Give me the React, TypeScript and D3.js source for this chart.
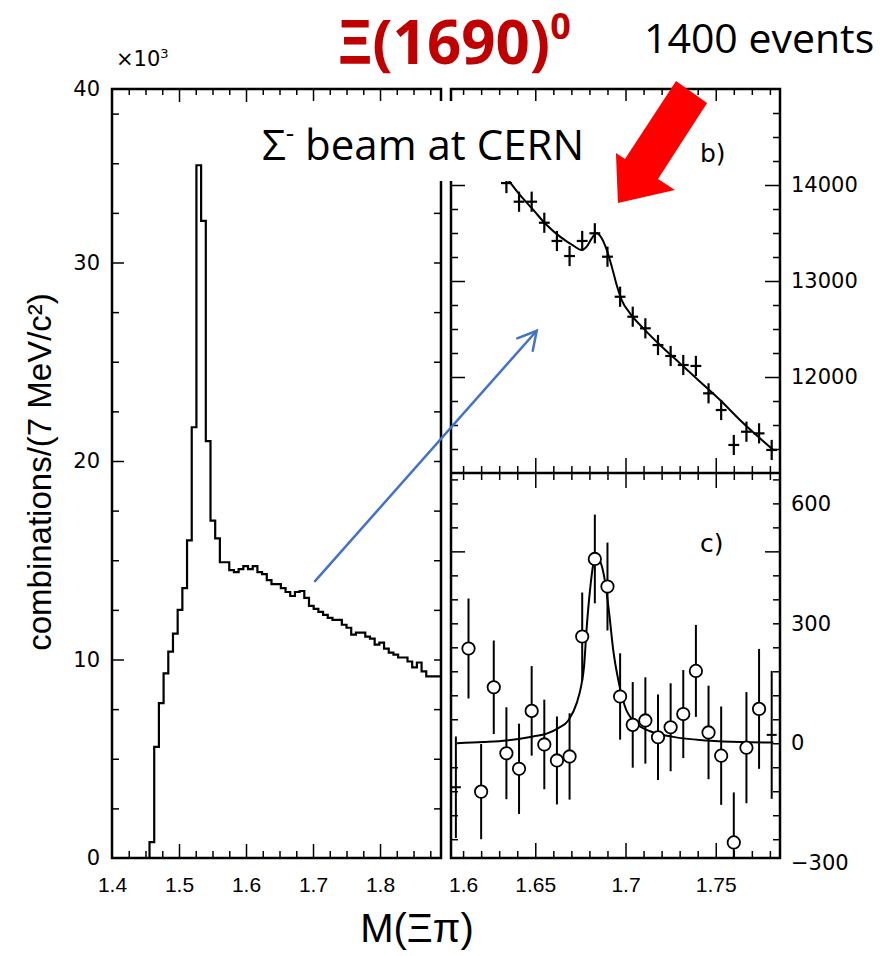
import React, { useEffect, useRef } from 'react';
import * as d3 from 'd3';

const W = 889;
const H = 956;

// left panel: M(Xi pi) histogram, 7 MeV bins, counts in units of 10^3
const histStart = 1.456;
const binW = 0.007;
const histCounts = [
  0.8, 5.6, 7.8, 9.3, 10.4, 11.3, 12.5, 13.6, 16.0, 21.7, 34.9, 32.1, 21.0, 17.0, 16.1,
  14.9, 14.9, 14.5, 14.4, 14.55, 14.7, 14.55, 14.7, 14.4, 14.3, 14.0, 13.8, 13.8, 13.6,
  13.4, 13.2, 13.4, 13.45, 13.1, 12.7, 12.55, 12.4, 12.25, 12.1, 12.0, 12.0, 11.75, 11.6,
  11.25, 11.35, 11.35, 11.15, 11.05, 10.75, 10.85, 10.55, 10.35, 10.25, 10.1, 10.1, 9.9,
  9.6, 9.85, 9.4, 9.15, 9.15, 9.15,
];

// right panels: bin centres (GeV)
const massR = [
  1.606, 1.613, 1.62, 1.627, 1.634, 1.641, 1.648, 1.655, 1.662, 1.669, 1.676, 1.683, 1.69,
  1.697, 1.704, 1.711, 1.718, 1.725, 1.732, 1.739, 1.746, 1.753, 1.76, 1.767, 1.774, 1.781,
];
// b) zoom of the histogram (first bins are above the frame)
const bCounts = [
  null, null, null, null, 14020, 13826, 13826, 13607, 13417, 13260, 13417, 13497, 13253,
  12836, 12628, 12507, 12333, 12219, 12125, 12115, 11830, 11656, 11292, 11430, 11413, 11240,
];
const bErr = 105;
const bFitMass = [
  1.6351, 1.6415, 1.6489, 1.6563, 1.6637, 1.6711, 1.6757, 1.6785, 1.6813, 1.684, 1.6868,
  1.6896, 1.6924, 1.6951, 1.6979, 1.7025, 1.7099, 1.7191, 1.7302, 1.7413, 1.7524, 1.7634,
  1.7745, 1.7819,
];
const bFitVal = [
  14052, 13896, 13740, 13583, 13462, 13368, 13323, 13358, 13445, 13497, 13445, 13323, 13149,
  12958, 12802, 12663, 12507, 12333, 12142, 11951, 11760, 11552, 11361, 11240,
];

// c) background subtracted
const cCounts = [
  -110, 237, -121, 140, -25, -64, 81, -3, -43, -33, 267, 461, 392, 117, 46, 57, 15, 40, 73,
  181, 27, -31, -248, -11, 86, 21,
];
const cErr = [
  127, 125, 119, 117, 115, 113, 112, 112, 110, 108, 110, 111, 110, 108, 107, 108, 107, 110,
  110, 115, 117, 123, 125, 139, 150, 160,
];
const cFitMass = [
  1.6065, 1.6212, 1.6342, 1.6489, 1.6563, 1.6628, 1.6683, 1.673, 1.6757, 1.677, 1.6785,
  1.6803, 1.6822, 1.684, 1.6862, 1.6886, 1.691, 1.6932, 1.696, 1.6997, 1.7053, 1.7136,
  1.7265, 1.745, 1.7635, 1.7819,
];
const cFitVal = [
  0, 3, 7, 17, 24, 38, 57, 101, 150, 191, 290, 382, 448, 463, 452, 406, 323, 233, 158, 92,
  52, 30, 16, 7, 3, 2,
];

const leftXLabels = [1.4, 1.5, 1.6, 1.7, 1.8];
const leftYLabels = [0, 10, 20, 30];
const rightXLabels = [1.65, 1.7, 1.75];
const bYLabels = [12000, 13000, 14000];
const cYLabels = [-300, 0, 300, 600];

// annotation arrows in data coordinates
const redArrow: [number, number][] = [
  [1.728, 15083], [1.7452, 14854], [1.718, 14063], [1.7274, 13948],
  [1.6958, 13813], [1.6947, 14333], [1.6997, 14271],
];

export default function App() {
  const ref = useRef<SVGSVGElement>(null);

  useEffect(() => {
    const svg = d3.select(ref.current);
    svg.selectAll('*').remove();

    const L = { x0: 112, x1: 441, y0: 89, y1: 858 };
    const R = { x0: 451, x1: 780, y0: 89, ym: 473, y1: 858 };

    const xL = d3.scaleLinear().domain([1.4, 1.891]).range([L.x0, L.x1]);
    const yL = d3.scaleLinear().domain([0, 38.74]).range([L.y1, L.y0]);
    const xR = d3.scaleLinear().domain([1.6033, 1.7856]).range([R.x0, R.x1]);
    const yB = d3.scaleLinear().domain([11000, 15000]).range([R.ym, R.y0]);
    const yC = d3.scaleLinear().domain([-287, 676]).range([R.y1, R.ym]);

    svg.append('rect').attr('width', W).attr('height', H).attr('fill', '#fff');

    const ticks = (axis: any, tr: string, values: number[], len: number) => {
      svg.append('g')
        .attr('transform', tr)
        .call(axis.tickValues(values).tickSize(len).tickFormat(() => ''))
        .call((s: any) => s.select('.domain').remove())
        .selectAll('line')
        .attr('stroke', '#000')
        .attr('stroke-width', 1.5);
    };

    // ---- left panel ticks
    const lyAll = d3.range(1, 16).map(i => i * 2.5);
    const lyMaj = lyAll.filter(v => v % 10 === 0);
    const lyMin = lyAll.filter(v => v % 10 !== 0);
    ticks(d3.axisRight(yL), `translate(${L.x0},0)`, lyMin, 7);
    ticks(d3.axisRight(yL), `translate(${L.x0},0)`, lyMaj, 12);
    ticks(d3.axisLeft(yL), `translate(${L.x1},0)`, lyAll, 7);
    const lxI = d3.range(1, 20);
    const lxMaj = lxI.filter(i => i % 4 === 0).map(i => 1.4 + i * 0.025);
    const lxMin = lxI.filter(i => i % 4 !== 0).map(i => 1.4 + i * 0.025);
    ticks(d3.axisTop(xL), `translate(0,${L.y1})`, lxMin, 7);
    ticks(d3.axisTop(xL), `translate(0,${L.y1})`, lxMaj, 14);
    ticks(d3.axisBottom(xL), `translate(0,${L.y0})`, lxMin, 6);
    ticks(d3.axisBottom(xL), `translate(0,${L.y0})`, lxMaj, 13);

    // ---- right panel ticks
    const rxI = d3.range(1, 19);
    const rxMaj = rxI.filter(i => i % 5 === 0).map(i => 1.6 + i * 0.01);
    const rxMin = rxI.filter(i => i % 5 !== 0).map(i => 1.6 + i * 0.01);
    ticks(d3.axisBottom(xR), `translate(0,${R.y0})`, rxMin, 6);
    ticks(d3.axisBottom(xR), `translate(0,${R.y0})`, rxMaj, 12);
    ticks(d3.axisTop(xR), `translate(0,${R.ym})`, rxMin, 7);
    ticks(d3.axisTop(xR), `translate(0,${R.ym})`, rxMaj, 15);
    ticks(d3.axisBottom(xR), `translate(0,${R.ym})`, rxMin, 7);
    ticks(d3.axisBottom(xR), `translate(0,${R.ym})`, rxMaj, 15);
    ticks(d3.axisTop(xR), `translate(0,${R.y1})`, rxMin, 7);
    ticks(d3.axisTop(xR), `translate(0,${R.y1})`, rxMaj, 15);

    const byAll = d3.range(1, 16).map(i => 11000 + i * 250);
    const byMaj = byAll.filter(v => v % 1000 === 0);
    const byMin = byAll.filter(v => v % 1000 !== 0);
    ticks(d3.axisRight(yB), `translate(${R.x0},0)`, byMin, 7);
    ticks(d3.axisRight(yB), `translate(${R.x0},0)`, byMaj, 14);
    ticks(d3.axisLeft(yB), `translate(${R.x1},0)`, byMin, 7);
    ticks(d3.axisLeft(yB), `translate(${R.x1},0)`, byMaj, 15);

    const cyAll = d3.range(-4, 12).map(i => i * 60).filter(v => v !== 0);
    const cyMaj = cyAll.filter(v => v === 480);
    const cyMin = cyAll.filter(v => v !== 480);
    ticks(d3.axisRight(yC), `translate(${R.x0},0)`, cyMin, 7);
    ticks(d3.axisRight(yC), `translate(${R.x0},0)`, cyMaj, 14);
    ticks(d3.axisLeft(yC), `translate(${R.x1},0)`, cyMin, 7);
    ticks(d3.axisLeft(yC), `translate(${R.x1},0)`, cyMaj, 15);
    ticks(d3.axisLeft(yC), `translate(${R.x1},0)`, [0], 7);

    // ---- tick labels
    const plain = (d: any) => String(d);
    const labels = (axis: any, tr: string, font: string, size: number) => {
      const g = svg.append('g').attr('transform', tr).call(axis.tickSize(0));
      g.select('.domain').remove();
      g.selectAll('text').attr('font-family', font).attr('font-size', size).attr('fill', '#000');
      return g;
    };
    labels(d3.axisLeft(yL).tickValues(leftYLabels).tickPadding(12).tickFormat(plain),
      `translate(${L.x0},0)`, 'DejaVu Sans', 21);
    svg.append('text').attr('x', L.x0 - 12).attr('y', L.y0).attr('dy', '0.32em')
      .attr('text-anchor', 'end').attr('font-family', 'DejaVu Sans').attr('font-size', 21)
      .text('40');
    labels(d3.axisBottom(xL).tickValues(leftXLabels).tickPadding(19).tickFormat(plain),
      `translate(0,${L.y1})`, 'Liberation Sans', 21);
    labels(d3.axisBottom(xR).tickValues(rightXLabels).tickPadding(19).tickFormat(plain),
      `translate(0,${R.y1})`, 'Liberation Sans', 21);
    svg.append('text').attr('x', R.x0 - 2).attr('y', R.y1 + 19).attr('dy', '0.71em')
      .attr('font-family', 'Liberation Sans').attr('font-size', 21).text('1.6');
    labels(d3.axisRight(yB).tickValues(bYLabels).tickPadding(11).tickFormat(d3.format('d')),
      `translate(${R.x1},0)`, 'DejaVu Sans', 21);
    labels(d3.axisRight(yC).tickValues(cYLabels).tickPadding(11).tickFormat(d3.format('d')),
      `translate(${R.x1},0)`, 'DejaVu Sans', 21);

    // ---- left histogram
    const histPts: [number, number][] = [[histStart, 0]];
    histCounts.forEach((v, i) => histPts.push([histStart + i * binW, v]));
    histPts.push([histStart + histCounts.length * binW, histCounts[histCounts.length - 1]]);
    svg.append('path')
      .attr('d', d3.line<[number, number]>().x(d => xL(d[0])).y(d => yL(d[1])).curve(d3.curveStepAfter)(histPts))
      .attr('fill', 'none').attr('stroke', '#000').attr('stroke-width', 2.2);

    // ---- clips
    const defs = svg.append('defs');
    defs.append('clipPath').attr('id', 'clipB').append('rect')
      .attr('x', R.x0).attr('y', R.y0).attr('width', R.x1 - R.x0).attr('height', R.ym - R.y0);
    defs.append('clipPath').attr('id', 'clipC').append('rect')
      .attr('x', R.x0).attr('y', R.ym).attr('width', R.x1 - R.x0).attr('height', R.y1 - R.ym);

    // ---- panel b
    const gB = svg.append('g').attr('clip-path', 'url(#clipB)');
    const fitLine = (ys: any) => d3.line<[number, number]>().x(d => xR(d[0])).y(d => ys(d[1])).curve(d3.curveMonotoneX);
    gB.append('path')
      .attr('d', fitLine(yB)(bFitMass.map((m, i) => [m, bFitVal[i]] as [number, number])))
      .attr('fill', 'none').attr('stroke', '#000').attr('stroke-width', 2);
    massR.forEach((m, i) => {
      const v = bCounts[i];
      if (v === null) return;
      gB.append('line').attr('x1', xR(m)).attr('x2', xR(m))
        .attr('y1', yB(v - bErr)).attr('y2', yB(v + bErr))
        .attr('stroke', '#000').attr('stroke-width', 2.2);
      gB.append('line').attr('x1', xR(m - 0.003)).attr('x2', xR(m + 0.003))
        .attr('y1', yB(v)).attr('y2', yB(v))
        .attr('stroke', '#000').attr('stroke-width', 2.2);
    });

    // ---- panel c
    const gC = svg.append('g').attr('clip-path', 'url(#clipC)');
    gC.append('path')
      .attr('d', fitLine(yC)(cFitMass.map((m, i) => [m, cFitVal[i]] as [number, number])))
      .attr('fill', 'none').attr('stroke', '#000').attr('stroke-width', 2);
    massR.forEach((m, i) => {
      const v = cCounts[i];
      gC.append('line').attr('x1', xR(m)).attr('x2', xR(m))
        .attr('y1', yC(v - cErr[i])).attr('y2', yC(v + cErr[i]))
        .attr('stroke', '#000').attr('stroke-width', 2);
      const edge = i === 0 || i === massR.length - 1;
      if (edge) {
        gC.append('line').attr('x1', xR(m) - 5).attr('x2', xR(m) + 5)
          .attr('y1', yC(v)).attr('y2', yC(v))
          .attr('stroke', '#000').attr('stroke-width', 2);
      } else {
        gC.append('circle').attr('cx', xR(m)).attr('cy', yC(v)).attr('r', 6.2)
          .attr('fill', '#fff').attr('stroke', '#000').attr('stroke-width', 1.8);
      }
    });

    // ---- frames
    svg.append('rect').attr('x', L.x0).attr('y', L.y0).attr('width', L.x1 - L.x0).attr('height', L.y1 - L.y0)
      .attr('fill', 'none').attr('stroke', '#000').attr('stroke-width', 2.5);
    svg.append('rect').attr('x', R.x0).attr('y', R.y0).attr('width', R.x1 - R.x0).attr('height', R.y1 - R.y0)
      .attr('fill', 'none').attr('stroke', '#000').attr('stroke-width', 2.5);
    svg.append('line').attr('x1', R.x0).attr('x2', R.x1).attr('y1', R.ym).attr('y2', R.ym)
      .attr('stroke', '#000').attr('stroke-width', 2.5);

    // panel tags
    svg.append('text').attr('x', 700).attr('y', 162).attr('font-family', 'DejaVu Sans').attr('font-size', 25).text('b)');
    svg.append('text').attr('x', 700).attr('y', 552).attr('font-family', 'DejaVu Sans').attr('font-size', 25).text('c)');

    // ×10³
    const mult = svg.append('text').attr('x', 116).attr('y', 66).attr('font-family', 'DejaVu Sans').attr('font-size', 21);
    mult.append('tspan').text('×10');
    mult.append('tspan').attr('dy', -8).attr('font-size', 13).text('3');

    // y-axis title
    svg.append('text')
      .attr('transform', `translate(51,472) rotate(-90)`)
      .attr('text-anchor', 'middle').attr('font-family', 'Liberation Sans').attr('font-size', 33)
      .text('combinations/(7 MeV/c²)');

    // x-axis title
    svg.append('text').attr('x', 417).attr('y', 942).attr('text-anchor', 'middle')
      .attr('font-family', 'Liberation Sans').attr('font-size', 40).text('M(Ξπ)');

    // white box behind the beam label
    svg.append('rect').attr('x', 250).attr('y', 101).attr('width', 342).attr('height', 80).attr('fill', '#fff');
    const beam = svg.append('text').attr('x', 262).attr('y', 160).attr('font-family', 'Open Sans').attr('font-size', 42);
    beam.append('tspan').text('Σ');
    beam.append('tspan').attr('dy', -18).attr('font-size', 26).text('-');
    beam.append('tspan').attr('dy', 18).text(' beam at CERN');

    // title and event count
    const title = svg.append('text').attr('x', 338).attr('y', 64).attr('font-family', 'Open Sans')
      .attr('font-weight', 700).attr('font-size', 60).attr('fill', '#C00000');
    title.append('tspan').text('Ξ(1690)');
    title.append('tspan').attr('dy', -25).attr('font-size', 36).text('0');
    svg.append('text').attr('x', 644).attr('y', 53).attr('font-family', 'Open Sans').attr('font-size', 41)
      .text('1400 events');

    // red arrow
    svg.append('polygon')
      .attr('points', redArrow.map(([m, v]) => `${xR(m)},${yB(v)}`).join(' '))
      .attr('fill', '#FF0000');

    // blue arrow from histogram to zoom
    const bx0 = xL(1.703), by0 = yL(13.95);
    const bx1 = xR(1.6508), by1 = yB(12482);
    const blue = svg.append('g').attr('stroke', '#4472C4').attr('stroke-width', 2.5).attr('fill', 'none')
      .attr('stroke-linecap', 'round');
    blue.append('line').attr('x1', bx0).attr('y1', by0).attr('x2', bx1).attr('y2', by1);
    blue.append('polyline').attr('points',
      `${xR(1.64)},${yB(12403)} ${bx1},${by1} ${xR(1.6486)},${yB(12274)}`);
  }, []);

  return (
    <svg ref={ref} width={W} height={H} style={{ position: 'absolute', left: 0, top: 0 }} />
  );
}
